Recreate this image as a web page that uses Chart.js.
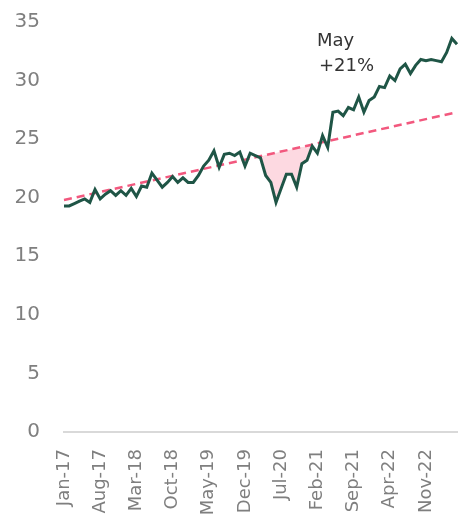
<!DOCTYPE html>
<html>
<head>
<meta charset="utf-8">
<script src="https://cdn.jsdelivr.net/npm/chart.js@4/dist/chart.umd.min.js"></script>
<style>
  html, body { margin: 0; padding: 0; background: #fff; }
  #wrap { width: 462px; height: 522px; }
</style>
</head>
<body>
<div id="wrap"><canvas id="myChart"></canvas></div>
<script>
// Meses (ene-2017 a may-2023)
const meses = [
  'Jan-17','Feb-17','Mar-17','Apr-17','May-17','Jun-17','Jul-17','Aug-17','Sep-17','Oct-17','Nov-17','Dec-17',
  'Jan-18','Feb-18','Mar-18','Apr-18','May-18','Jun-18','Jul-18','Aug-18','Sep-18','Oct-18','Nov-18','Dec-18',
  'Jan-19','Feb-19','Mar-19','Apr-19','May-19','Jun-19','Jul-19','Aug-19','Sep-19','Oct-19','Nov-19','Dec-19',
  'Jan-20','Feb-20','Mar-20','Apr-20','May-20','Jun-20','Jul-20','Aug-20','Sep-20','Oct-20','Nov-20','Dec-20',
  'Jan-21','Feb-21','Mar-21','Apr-21','May-21','Jun-21','Jul-21','Aug-21','Sep-21','Oct-21','Nov-21','Dec-21',
  'Jan-22','Feb-22','Mar-22','Apr-22','May-22','Jun-22','Jul-22','Aug-22','Sep-22','Oct-22','Nov-22','Dec-22',
  'Jan-23','Feb-23','Mar-23','Apr-23','May-23'
];

// Serie real
const valores = [
  19.3, 19.3, 19.5, 19.7, 19.9, 19.6, 20.7, 19.9, 20.3, 20.6, 20.2, 20.6,
  20.2, 20.8, 20.1, 21.0, 20.9, 22.1, 21.5, 20.9, 21.3, 21.8, 21.3, 21.7,
  21.3, 21.3, 21.9, 22.7, 23.2, 24.0, 22.6, 23.7, 23.8, 23.6, 23.9, 22.7,
  23.8, 23.6, 23.4, 21.9, 21.3, 19.6, 20.8, 22.0, 22.0, 20.9, 22.9, 23.2,
  24.4, 23.8, 25.3, 24.3, 27.3, 27.4, 27.0, 27.7, 27.5, 28.6, 27.3, 28.3,
  28.6, 29.5, 29.4, 30.4, 30.0, 31.0, 31.4, 30.6, 31.3, 31.8, 31.7, 31.8,
  31.7, 31.6, 32.4, 33.6, 33.1
];

// Tendencia (inicio y fin)
const tendencia = [
  { x: 'Jan-17', y: 19.8 },
  { x: 'May-23', y: 27.3 }
];

// Tramo sombreado bajo la tendencia
const inicioCaida = 37;
const finCaida = 48;
const caida = valores.map((v, i) => (i >= inicioCaida && i <= finCaida) ? v : null);

const ticksY = [0, 5, 10, 15, 20, 25, 30, 35];
const cadaMeses = 7;

// Texto de anotación
const notaLineas = ['May', '+21%'];

const fuente = "'DejaVu Sans', sans-serif";
const gris = '#7f7f7f';

const notaPlugin = {
  id: 'nota',
  afterDatasetsDraw(chart) {
    const ctx = chart.ctx;
    ctx.save();
    ctx.fillStyle = '#333333';
    ctx.font = '18px ' + fuente;
    ctx.textBaseline = 'alphabetic';
    ctx.textAlign = 'left';
    ctx.fillText(notaLineas[0], 317, 46);
    ctx.fillText(notaLineas[1], 319, 71);
    ctx.restore();
  }
};

const ctx = document.getElementById('myChart').getContext('2d');
const myChart = new Chart(ctx, {
  type: 'line',
  data: {
    labels: meses,
    datasets: [{
      label: 'Real',
      data: valores,
      borderColor: '#1f5546',
      borderWidth: 3,
      pointRadius: 0,
      tension: 0,
      fill: false,
      order: 0
    }, {
      label: 'Tendencia',
      data: tendencia,
      borderColor: '#f2587e',
      borderWidth: 2.5,
      borderDash: [8, 5],
      pointRadius: 0,
      fill: false,
      order: 1
    }, {
      label: 'Caída',
      data: caida,
      borderWidth: 0,
      borderColor: 'rgba(0,0,0,0)',
      pointRadius: 0,
      fill: { target: 1, above: 'rgba(0,0,0,0)', below: '#fdd9e1' },
      order: 2
    }]
  },
  options: {
    responsive: true,
    maintainAspectRatio: false,
    animation: false,
    layout: { padding: { top: 22, right: 5, left: 10, bottom: 0 } },
    plugins: {
      legend: { display: false },
      tooltip: { enabled: false }
    },
    scales: {
      x: {
        grid: { display: false },
        border: { display: true, color: '#d9d9d9', width: 2 },
        afterFit: axis => {
          axis.height = 90;
          axis.paddingLeft = 0;
          axis.paddingRight = 0;
        },
        ticks: {
          autoSkip: false,
          minRotation: 90,
          maxRotation: 90,
          padding: 9,
          color: gris,
          font: { family: fuente, size: 18 },
          callback: function (val, i) {
            return i % cadaMeses === 0 ? meses[i] : '';
          }
        }
      },
      y: {
        min: ticksY[0],
        max: ticksY[ticksY.length - 1],
        grid: { display: false },
        border: { display: false },
        afterBuildTicks: axis => { axis.ticks = ticksY.map(v => ({ value: v })); },
        afterFit: axis => {
          axis.width = 54;
          axis.paddingTop = 0;
          axis.paddingBottom = 0;
        },
        ticks: {
          padding: 16,
          color: gris,
          font: { family: fuente, size: 20 }
        }
      }
    }
  },
  plugins: [notaPlugin]
});
</script>
</body>
</html>
